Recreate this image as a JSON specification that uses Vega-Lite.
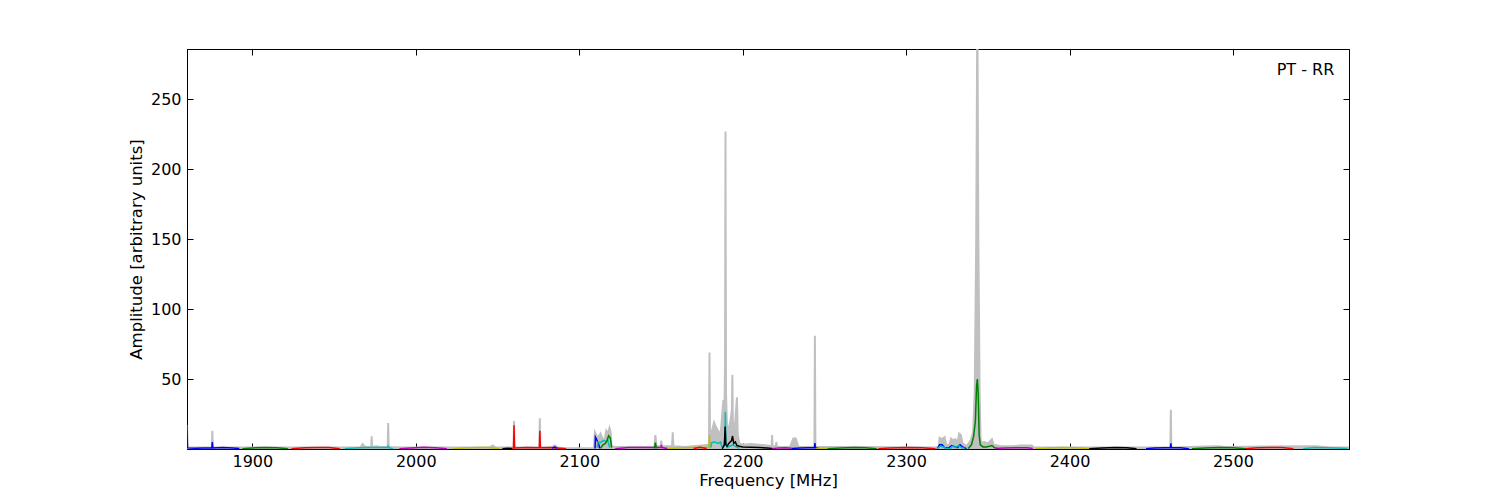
{
  "$schema": "https://vega.github.io/schema/vega-lite/v6.json",
  "width": 1162,
  "height": 400,
  "autosize": "none",
  "padding": {"left": 187, "top": 49, "right": 151, "bottom": 51},
  "background": "white",
  "config": {
    "font": "DejaVu Sans",
    "view": {"stroke": "black", "strokeWidth": 1},
    "axis": {
      "grid": false,
      "domainColor": "black",
      "tickColor": "black",
      "tickSize": -6,
      "labelFont": "DejaVu Sans",
      "labelFontSize": 16,
      "labelColor": "black",
      "titleFont": "DejaVu Sans",
      "titleFontSize": 16.5,
      "titleFontWeight": "normal",
      "titleColor": "black"
    }
  },
  "datasets": {
    "gray": [
      {"f": 1860, "a": 17}, {"f": 1860.4, "a": 1}, {"f": 1875.2, "a": 1}, {"f": 1875.5, "a": 13}, {"f": 1875.8, "a": 1},
      {"f": 1890, "a": 1}, {"f": 1966, "a": 1}, {"f": 1967.5, "a": 3.5}, {"f": 1969, "a": 1.5}, {"f": 1972.7, "a": 1.5},
      {"f": 1973, "a": 9}, {"f": 1973.3, "a": 1.5}, {"f": 1976, "a": 2}, {"f": 1978, "a": 1.5}, {"f": 1982.8, "a": 1.5},
      {"f": 1983.1, "a": 18.5}, {"f": 1983.4, "a": 1.5}, {"f": 1990, "a": 1}, {"f": 2045, "a": 1}, {"f": 2047, "a": 2.5},
      {"f": 2049, "a": 1}, {"f": 2059.8, "a": 1}, {"f": 2060.1, "a": 20}, {"f": 2060.4, "a": 1}, {"f": 2075.6, "a": 1},
      {"f": 2075.9, "a": 22}, {"f": 2076.2, "a": 1}, {"f": 2083, "a": 1}, {"f": 2085, "a": 2.5}, {"f": 2087, "a": 1},
      {"f": 2092, "a": 0.5}, {"f": 2109, "a": 0.5}, {"f": 2109.6, "a": 12}, {"f": 2110.5, "a": 10}, {"f": 2111.2, "a": 6},
      {"f": 2112, "a": 9}, {"f": 2113, "a": 11}, {"f": 2114, "a": 8}, {"f": 2115.5, "a": 6}, {"f": 2116.5, "a": 13},
      {"f": 2117.5, "a": 11}, {"f": 2118.5, "a": 15}, {"f": 2119.2, "a": 12}, {"f": 2119.8, "a": 2}, {"f": 2122, "a": 1.5},
      {"f": 2130, "a": 1.5}, {"f": 2146, "a": 1.5}, {"f": 2146.6, "a": 10}, {"f": 2147.2, "a": 2}, {"f": 2149.8, "a": 2},
      {"f": 2150.2, "a": 6}, {"f": 2150.6, "a": 2}, {"f": 2156.8, "a": 2}, {"f": 2157.2, "a": 12}, {"f": 2157.6, "a": 2},
      {"f": 2165, "a": 1.5}, {"f": 2175, "a": 2.5}, {"f": 2179.4, "a": 3}, {"f": 2179.7, "a": 69}, {"f": 2180, "a": 5},
      {"f": 2181, "a": 12}, {"f": 2182.5, "a": 19}, {"f": 2183.5, "a": 16}, {"f": 2184.5, "a": 14}, {"f": 2185.5, "a": 12},
      {"f": 2186.5, "a": 10}, {"f": 2187.5, "a": 25}, {"f": 2188.2, "a": 35}, {"f": 2188.8, "a": 20}, {"f": 2189.2, "a": 60},
      {"f": 2189.5, "a": 227}, {"f": 2189.8, "a": 40}, {"f": 2190.5, "a": 12}, {"f": 2191.5, "a": 15}, {"f": 2192.5, "a": 20},
      {"f": 2193.4, "a": 28}, {"f": 2193.7, "a": 53}, {"f": 2194, "a": 20}, {"f": 2195, "a": 12}, {"f": 2196.5, "a": 37},
      {"f": 2197, "a": 10}, {"f": 2198, "a": 4}, {"f": 2200, "a": 3}, {"f": 2205, "a": 3.5}, {"f": 2210, "a": 3},
      {"f": 2215, "a": 2.5}, {"f": 2217.7, "a": 2}, {"f": 2218, "a": 10}, {"f": 2218.3, "a": 2}, {"f": 2220.3, "a": 2},
      {"f": 2220.6, "a": 5}, {"f": 2221, "a": 1.5}, {"f": 2229, "a": 1.5}, {"f": 2231, "a": 7.5}, {"f": 2232.5, "a": 7.5},
      {"f": 2234, "a": 1.5}, {"f": 2243.9, "a": 1.5}, {"f": 2244.2, "a": 81}, {"f": 2244.5, "a": 1.5}, {"f": 2250, "a": 1.5},
      {"f": 2260, "a": 1.5}, {"f": 2270, "a": 1.5}, {"f": 2320, "a": 1}, {"f": 2320.5, "a": 8}, {"f": 2322, "a": 7},
      {"f": 2323.5, "a": 8.5}, {"f": 2324.5, "a": 3}, {"f": 2326.5, "a": 3}, {"f": 2327.5, "a": 7.5}, {"f": 2329, "a": 6},
      {"f": 2330, "a": 7}, {"f": 2331.5, "a": 5}, {"f": 2332.5, "a": 11}, {"f": 2333.5, "a": 10}, {"f": 2334.5, "a": 4},
      {"f": 2337, "a": 2}, {"f": 2339.5, "a": 6}, {"f": 2341, "a": 12}, {"f": 2342, "a": 40}, {"f": 2342.9, "a": 150},
      {"f": 2343.6, "a": 320}, {"f": 2344.2, "a": 150}, {"f": 2345, "a": 40}, {"f": 2345.6, "a": 6}, {"f": 2346.5, "a": 4.5},
      {"f": 2348, "a": 5}, {"f": 2349.5, "a": 4}, {"f": 2351, "a": 5}, {"f": 2352.5, "a": 7}, {"f": 2353.5, "a": 3},
      {"f": 2358, "a": 2}, {"f": 2365, "a": 2}, {"f": 2370, "a": 2.5}, {"f": 2377, "a": 2.5}, {"f": 2378, "a": 1},
      {"f": 2400, "a": 1}, {"f": 2461.7, "a": 1}, {"f": 2462, "a": 28}, {"f": 2462.3, "a": 1}, {"f": 2490, "a": 2},
      {"f": 2495, "a": 1.5}, {"f": 2550, "a": 2}, {"f": 2560, "a": 1}, {"f": 2571, "a": 1}
    ],
    "bands": [
      {"band": "b1", "c": "b", "f": 1860, "a": 17}, {"band": "b1", "c": "b", "f": 1860.3, "a": 0.8}, {"band": "b1", "c": "b", "f": 1865, "a": 0.6},
      {"band": "b1", "c": "b", "f": 1870, "a": 0.7}, {"band": "b1", "c": "b", "f": 1875.2, "a": 0.8}, {"band": "b1", "c": "b", "f": 1875.5, "a": 5},
      {"band": "b1", "c": "b", "f": 1875.8, "a": 0.8}, {"band": "b1", "c": "b", "f": 1882, "a": 1.0}, {"band": "b1", "c": "b", "f": 1888, "a": 0.8},
      {"band": "b1", "c": "b", "f": 1892, "a": 0.3},
      {"band": "g1", "c": "g", "f": 1894, "a": 0.2}, {"band": "g1", "c": "g", "f": 1900, "a": 0.8}, {"band": "g1", "c": "g", "f": 1908, "a": 1.1},
      {"band": "g1", "c": "g", "f": 1915, "a": 0.9}, {"band": "g1", "c": "g", "f": 1921.7, "a": 0.2},
      {"band": "r1", "c": "r", "f": 1924, "a": 0.2}, {"band": "r1", "c": "r", "f": 1932, "a": 0.9}, {"band": "r1", "c": "r", "f": 1940, "a": 1.1},
      {"band": "r1", "c": "r", "f": 1947, "a": 1.0}, {"band": "r1", "c": "r", "f": 1953.5, "a": 0.2},
      {"band": "c1", "c": "c", "f": 1956.6, "a": 0.2}, {"band": "c1", "c": "c", "f": 1963, "a": 0.8}, {"band": "c1", "c": "c", "f": 1970, "a": 1.0},
      {"band": "c1", "c": "c", "f": 1976, "a": 1.1}, {"band": "c1", "c": "c", "f": 1982.8, "a": 1.0}, {"band": "c1", "c": "c", "f": 1983.1, "a": 2.5},
      {"band": "c1", "c": "c", "f": 1983.4, "a": 1.0}, {"band": "c1", "c": "c", "f": 1986, "a": 0.2},
      {"band": "m1", "c": "m", "f": 1990, "a": 0.2}, {"band": "m1", "c": "m", "f": 1997, "a": 0.8}, {"band": "m1", "c": "m", "f": 2005, "a": 1.2},
      {"band": "m1", "c": "m", "f": 2012, "a": 0.9}, {"band": "m1", "c": "m", "f": 2019, "a": 0.2},
      {"band": "y1", "c": "y", "f": 2022.6, "a": 0.2}, {"band": "y1", "c": "y", "f": 2030, "a": 0.8}, {"band": "y1", "c": "y", "f": 2038, "a": 1.0},
      {"band": "y1", "c": "y", "f": 2045, "a": 1.0}, {"band": "y1", "c": "y", "f": 2051, "a": 0.2},
      {"band": "k1", "c": "k", "f": 2053, "a": 0.2}, {"band": "k1", "c": "k", "f": 2056, "a": 0.6}, {"band": "k1", "c": "k", "f": 2059, "a": 0.3},
      {"band": "r2", "c": "r", "f": 2059, "a": 0.3}, {"band": "r2", "c": "r", "f": 2059.8, "a": 0.6}, {"band": "r2", "c": "r", "f": 2060.1, "a": 17},
      {"band": "r2", "c": "r", "f": 2060.4, "a": 0.7}, {"band": "r2", "c": "r", "f": 2068, "a": 1.0}, {"band": "r2", "c": "r", "f": 2075.6, "a": 0.9},
      {"band": "r2", "c": "r", "f": 2075.9, "a": 13}, {"band": "r2", "c": "r", "f": 2076.2, "a": 0.9}, {"band": "r2", "c": "r", "f": 2083, "a": 1.0},
      {"band": "r2", "c": "r", "f": 2088, "a": 0.6}, {"band": "r2", "c": "r", "f": 2092, "a": 0.2},
      {"band": "b2", "c": "b", "f": 2083.5, "a": 0.5}, {"band": "b2", "c": "b", "f": 2085, "a": 1.5}, {"band": "b2", "c": "b", "f": 2086.5, "a": 0.5},
      {"band": "b3", "c": "b", "f": 2109.7, "a": 0.3}, {"band": "b3", "c": "b", "f": 2109.9, "a": 8.5}, {"band": "b3", "c": "b", "f": 2110.6, "a": 7},
      {"band": "b3", "c": "b", "f": 2111.3, "a": 5}, {"band": "b3", "c": "b", "f": 2112, "a": 3}, {"band": "b3", "c": "b", "f": 2112.5, "a": 0.5},
      {"band": "c2", "c": "c", "f": 2111, "a": 1}, {"band": "c2", "c": "c", "f": 2111.5, "a": 5}, {"band": "c2", "c": "c", "f": 2113, "a": 4.5},
      {"band": "c2", "c": "c", "f": 2114.5, "a": 6}, {"band": "c2", "c": "c", "f": 2116, "a": 5.5}, {"band": "c2", "c": "c", "f": 2117.5, "a": 6},
      {"band": "c2", "c": "c", "f": 2118.6, "a": 1},
      {"band": "g2", "c": "g", "f": 2113, "a": 0.5}, {"band": "g2", "c": "g", "f": 2114.5, "a": 3}, {"band": "g2", "c": "g", "f": 2116, "a": 4},
      {"band": "g2", "c": "g", "f": 2117, "a": 6}, {"band": "g2", "c": "g", "f": 2118, "a": 9.5}, {"band": "g2", "c": "g", "f": 2119, "a": 8},
      {"band": "g2", "c": "g", "f": 2119.8, "a": 1},
      {"band": "m2", "c": "m", "f": 2122, "a": 0.2}, {"band": "m2", "c": "m", "f": 2130, "a": 1.0}, {"band": "m2", "c": "m", "f": 2140, "a": 1.1},
      {"band": "m2", "c": "m", "f": 2146, "a": 1.0}, {"band": "m2", "c": "m", "f": 2150, "a": 1.0}, {"band": "m2", "c": "m", "f": 2150.3, "a": 3},
      {"band": "m2", "c": "m", "f": 2150.6, "a": 1.0}, {"band": "m2", "c": "m", "f": 2154, "a": 0.3},
      {"band": "g3", "c": "g", "f": 2146, "a": 0.5}, {"band": "g3", "c": "g", "f": 2146.6, "a": 4.5}, {"band": "g3", "c": "g", "f": 2147.2, "a": 0.5},
      {"band": "y2", "c": "y", "f": 2154, "a": 0.3}, {"band": "y2", "c": "y", "f": 2160, "a": 0.8}, {"band": "y2", "c": "y", "f": 2168, "a": 1.0},
      {"band": "y2", "c": "y", "f": 2175, "a": 1.0}, {"band": "y2", "c": "y", "f": 2179.4, "a": 1.0}, {"band": "y2", "c": "y", "f": 2179.7, "a": 10},
      {"band": "y2", "c": "y", "f": 2180, "a": 1.0},
      {"band": "r3", "c": "r", "f": 2170, "a": 0.3}, {"band": "r3", "c": "r", "f": 2174, "a": 1.2}, {"band": "r3", "c": "r", "f": 2178, "a": 0.3},
      {"band": "c3", "c": "c", "f": 2180.5, "a": 1}, {"band": "c3", "c": "c", "f": 2181, "a": 4.5}, {"band": "c3", "c": "c", "f": 2183, "a": 5},
      {"band": "c3", "c": "c", "f": 2185, "a": 4}, {"band": "c3", "c": "c", "f": 2186.5, "a": 5}, {"band": "c3", "c": "c", "f": 2187.3, "a": 1.5},
      {"band": "c3", "c": "c", "f": 2188.5, "a": 2}, {"band": "c3", "c": "c", "f": 2189.2, "a": 8}, {"band": "c3", "c": "c", "f": 2189.4, "a": 26.7},
      {"band": "c3", "c": "c", "f": 2189.7, "a": 5}, {"band": "c3", "c": "c", "f": 2190.5, "a": 1}, {"band": "c3", "c": "c", "f": 2192, "a": 2},
      {"band": "c3", "c": "c", "f": 2194, "a": 3}, {"band": "c3", "c": "c", "f": 2196, "a": 1.5}, {"band": "c3", "c": "c", "f": 2198, "a": 0.5},
      {"band": "k2", "c": "k", "f": 2187.5, "a": 0.1}, {"band": "k2", "c": "k", "f": 2188.8, "a": 3}, {"band": "k2", "c": "k", "f": 2189.3, "a": 16},
      {"band": "k2", "c": "k", "f": 2189.7, "a": 3}, {"band": "k2", "c": "k", "f": 2190.5, "a": 2}, {"band": "k2", "c": "k", "f": 2191.5, "a": 4},
      {"band": "k2", "c": "k", "f": 2193.2, "a": 6}, {"band": "k2", "c": "k", "f": 2193.8, "a": 9.3}, {"band": "k2", "c": "k", "f": 2194.5, "a": 4},
      {"band": "k2", "c": "k", "f": 2195.5, "a": 5}, {"band": "k2", "c": "k", "f": 2196.5, "a": 2.5}, {"band": "k2", "c": "k", "f": 2198, "a": 2},
      {"band": "k2", "c": "k", "f": 2200, "a": 1.5}, {"band": "k2", "c": "k", "f": 2205, "a": 1.2}, {"band": "k2", "c": "k", "f": 2210, "a": 1.0},
      {"band": "k2", "c": "k", "f": 2215, "a": 0.8}, {"band": "k2", "c": "k", "f": 2218, "a": 0.3},
      {"band": "m3", "c": "m", "f": 2218, "a": 0.2}, {"band": "m3", "c": "m", "f": 2222, "a": 0.8}, {"band": "m3", "c": "m", "f": 2226, "a": 0.9},
      {"band": "m3", "c": "m", "f": 2230, "a": 0.5},
      {"band": "b4", "c": "b", "f": 2230, "a": 0.3}, {"band": "b4", "c": "b", "f": 2235, "a": 0.8}, {"band": "b4", "c": "b", "f": 2240, "a": 0.9},
      {"band": "b4", "c": "b", "f": 2243.9, "a": 0.9}, {"band": "b4", "c": "b", "f": 2244.2, "a": 4.3}, {"band": "b4", "c": "b", "f": 2244.5, "a": 0.9},
      {"band": "b4", "c": "b", "f": 2247, "a": 0.2},
      {"band": "y3", "c": "y", "f": 2245, "a": 0.2}, {"band": "y3", "c": "y", "f": 2249, "a": 0.8}, {"band": "y3", "c": "y", "f": 2254, "a": 0.3},
      {"band": "g4", "c": "g", "f": 2252, "a": 0.2}, {"band": "g4", "c": "g", "f": 2260, "a": 0.8}, {"band": "g4", "c": "g", "f": 2268, "a": 1.0},
      {"band": "g4", "c": "g", "f": 2275, "a": 0.9}, {"band": "g4", "c": "g", "f": 2282, "a": 0.2},
      {"band": "r4", "c": "r", "f": 2283, "a": 0.2}, {"band": "r4", "c": "r", "f": 2290, "a": 0.8}, {"band": "r4", "c": "r", "f": 2300, "a": 1.0},
      {"band": "r4", "c": "r", "f": 2310, "a": 0.9}, {"band": "r4", "c": "r", "f": 2318, "a": 0.2},
      {"band": "b5", "c": "b", "f": 2319, "a": 0.3}, {"band": "b5", "c": "b", "f": 2320.5, "a": 3}, {"band": "b5", "c": "b", "f": 2322, "a": 3},
      {"band": "b5", "c": "b", "f": 2323.5, "a": 1}, {"band": "b5", "c": "b", "f": 2326, "a": 0.8}, {"band": "b5", "c": "b", "f": 2328, "a": 2.5},
      {"band": "b5", "c": "b", "f": 2330, "a": 1.5}, {"band": "b5", "c": "b", "f": 2331.5, "a": 1}, {"band": "b5", "c": "b", "f": 2333, "a": 3},
      {"band": "b5", "c": "b", "f": 2334.5, "a": 1.5}, {"band": "b5", "c": "b", "f": 2337, "a": 0.3},
      {"band": "c4", "c": "c", "f": 2319, "a": 0.3}, {"band": "c4", "c": "c", "f": 2321, "a": 2}, {"band": "c4", "c": "c", "f": 2323, "a": 1.5},
      {"band": "c4", "c": "c", "f": 2324.5, "a": 0.3}, {"band": "c4", "c": "c", "f": 2327, "a": 0.3}, {"band": "c4", "c": "c", "f": 2328.5, "a": 2},
      {"band": "c4", "c": "c", "f": 2330, "a": 1}, {"band": "c4", "c": "c", "f": 2332, "a": 2.5}, {"band": "c4", "c": "c", "f": 2334, "a": 1},
      {"band": "c4", "c": "c", "f": 2336, "a": 0.3},
      {"band": "g5", "c": "g", "f": 2338, "a": 0.3}, {"band": "g5", "c": "g", "f": 2340, "a": 3}, {"band": "g5", "c": "g", "f": 2341.3, "a": 9},
      {"band": "g5", "c": "g", "f": 2342.4, "a": 20}, {"band": "g5", "c": "g", "f": 2343.1, "a": 45}, {"band": "g5", "c": "g", "f": 2343.6, "a": 50},
      {"band": "g5", "c": "g", "f": 2344.1, "a": 40}, {"band": "g5", "c": "g", "f": 2344.7, "a": 10}, {"band": "g5", "c": "g", "f": 2345.4, "a": 3},
      {"band": "g5", "c": "g", "f": 2347, "a": 1.5}, {"band": "g5", "c": "g", "f": 2349, "a": 1.5}, {"band": "g5", "c": "g", "f": 2351, "a": 2},
      {"band": "g5", "c": "g", "f": 2352.5, "a": 2.5}, {"band": "g5", "c": "g", "f": 2354, "a": 1}, {"band": "g5", "c": "g", "f": 2356, "a": 0.3},
      {"band": "m4", "c": "m", "f": 2355, "a": 0.3}, {"band": "m4", "c": "m", "f": 2360, "a": 0.8}, {"band": "m4", "c": "m", "f": 2368, "a": 0.9},
      {"band": "m4", "c": "m", "f": 2374, "a": 0.9}, {"band": "m4", "c": "m", "f": 2377.5, "a": 0.3},
      {"band": "y4", "c": "y", "f": 2379.6, "a": 0.2}, {"band": "y4", "c": "y", "f": 2387, "a": 0.8}, {"band": "y4", "c": "y", "f": 2395, "a": 1.0},
      {"band": "y4", "c": "y", "f": 2404, "a": 0.9}, {"band": "y4", "c": "y", "f": 2412, "a": 0.2},
      {"band": "k3", "c": "k", "f": 2412, "a": 0.2}, {"band": "k3", "c": "k", "f": 2420, "a": 0.8}, {"band": "k3", "c": "k", "f": 2428, "a": 1.0},
      {"band": "k3", "c": "k", "f": 2435, "a": 0.9}, {"band": "k3", "c": "k", "f": 2441, "a": 0.2},
      {"band": "b6", "c": "b", "f": 2446.8, "a": 0.2}, {"band": "b6", "c": "b", "f": 2452, "a": 0.8}, {"band": "b6", "c": "b", "f": 2458, "a": 0.9},
      {"band": "b6", "c": "b", "f": 2461.7, "a": 1.0}, {"band": "b6", "c": "b", "f": 2462, "a": 4}, {"band": "b6", "c": "b", "f": 2462.3, "a": 1.0},
      {"band": "b6", "c": "b", "f": 2468, "a": 0.9}, {"band": "b6", "c": "b", "f": 2473, "a": 0.2},
      {"band": "g6", "c": "g", "f": 2475, "a": 0.2}, {"band": "g6", "c": "g", "f": 2483, "a": 0.8}, {"band": "g6", "c": "g", "f": 2492, "a": 1.0},
      {"band": "g6", "c": "g", "f": 2500, "a": 0.9}, {"band": "g6", "c": "g", "f": 2508, "a": 0.2},
      {"band": "r5", "c": "r", "f": 2508, "a": 0.2}, {"band": "r5", "c": "r", "f": 2515, "a": 0.9}, {"band": "r5", "c": "r", "f": 2523, "a": 1.1},
      {"band": "r5", "c": "r", "f": 2530, "a": 1.0}, {"band": "r5", "c": "r", "f": 2537, "a": 0.2},
      {"band": "c5", "c": "c", "f": 2543, "a": 0.2}, {"band": "c5", "c": "c", "f": 2550, "a": 1.0}, {"band": "c5", "c": "c", "f": 2556, "a": 0.9},
      {"band": "c5", "c": "c", "f": 2563, "a": 0.8}, {"band": "c5", "c": "c", "f": 2570, "a": 0.3}
    ]
  },
  "layer": [
    {
      "data": {"name": "gray"},
      "mark": {"type": "area", "color": "#c0c0c0", "stroke": "#c0c0c0", "strokeWidth": 2, "clip": true},
      "encoding": {
        "x": {"field": "f", "type": "quantitative", "scale": {"domain": [1860, 2571], "nice": false, "zero": false},
              "axis": {"orient": "bottom", "values": [1900, 2000, 2100, 2200, 2300, 2400, 2500], "title": "Frequency [MHz]", "labelPadding": 10, "titlePadding": 3, "format": "d"}},
        "y": {"field": "a", "type": "quantitative", "scale": {"domain": [0, 286], "nice": false},
              "axis": {"orient": "left", "values": [50, 100, 150, 200, 250], "title": "Amplitude [arbitrary units]", "labelPadding": 12, "titlePadding": 6}}
      }
    },
    {
      "data": {"name": "bands"},
      "mark": {"type": "line", "strokeWidth": 1.5, "clip": true},
      "encoding": {
        "x": {"field": "f", "type": "quantitative", "axis": {"orient": "top", "values": [1900, 2000, 2100, 2200, 2300, 2400, 2500], "labels": false, "title": null}},
        "y": {"field": "a", "type": "quantitative", "axis": {"orient": "right", "values": [50, 100, 150, 200, 250], "labels": false, "title": null}},
        "color": {"field": "c", "type": "nominal", "legend": null,
                  "scale": {"domain": ["b", "g", "r", "c", "m", "y", "k"], "range": ["#0000ff", "#008000", "#ff0000", "#00bfbf", "#bf00bf", "#bfbf00", "#000000"]}},
        "detail": {"field": "band", "type": "nominal"}
      }
    },
    {
      "data": {"values": [{"f": 2562, "a": 271, "t": "PT - RR"}]},
      "mark": {"type": "text", "align": "right", "baseline": "middle", "fontSize": 16, "font": "DejaVu Sans", "color": "black"},
      "encoding": {
        "x": {"field": "f", "type": "quantitative", "axis": null},
        "y": {"field": "a", "type": "quantitative", "axis": null},
        "text": {"field": "t"}
      }
    }
  ],
  "resolve": {"axis": {"x": "independent", "y": "independent"}}
}
